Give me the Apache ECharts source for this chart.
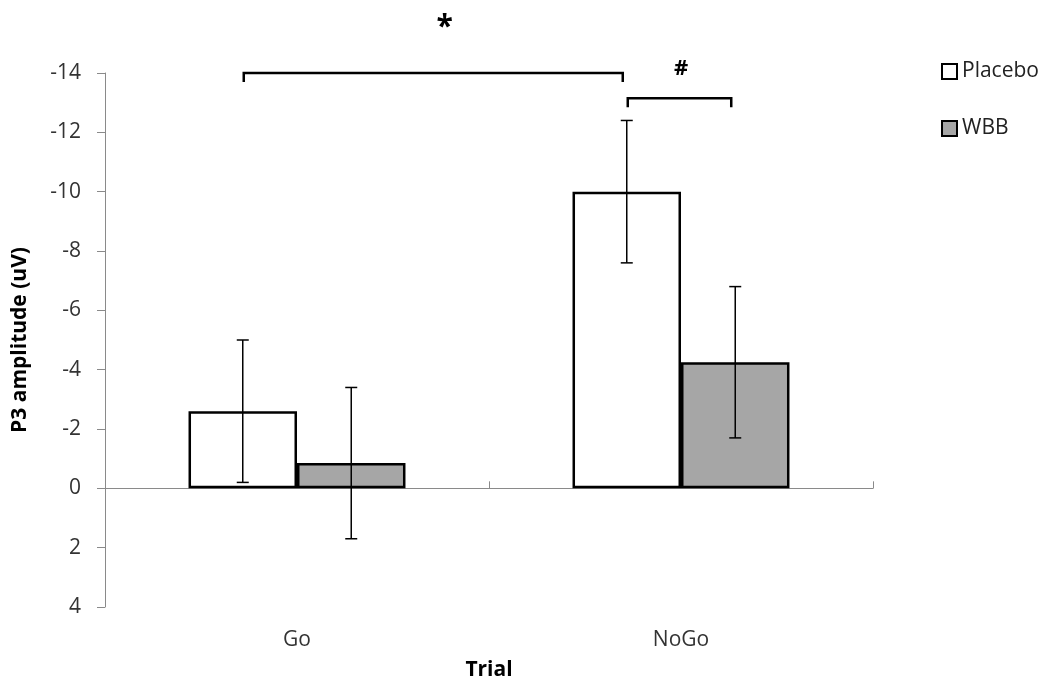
<!DOCTYPE html>
<html>
<head>
<meta charset="utf-8">
<script src="https://cdn.jsdelivr.net/npm/echarts@6/dist/echarts.min.js"></script>
<style>
  html, body { margin: 0; padding: 0; background: #fff; }
  #chart { width: 1051px; height: 686px; }
</style>
</head>
<body>
<div id="chart"></div>
<script>
// Trial conditions and group means (uV; negative = larger P3)
const trials = ['Go', 'NoGo'];
const groups = ['Placebo', 'WBB'];
const placeboMean = [-2.6, -10.0];
const wbbMean = [-0.85, -4.25];
const placeboErr = [2.4, 2.4];
const wbbErr = [2.55, 2.55];

// Axis settings
const yMin = -14, yMax = 4, yStep = 2;

// Significance brackets: [fromTrial, fromGroup, toTrial, toGroup, level, labelLevel, mark]
const brackets = [
  [0, 0, 1, 0, -14.0, -15.75, '*'],
  [1, 0, 1, 1, -13.15, -14.15, '#']
];

const FONT = '"Open Sans", sans-serif';
const CATEGORY_GAP = 0.435;            // fraction of band left empty
const BAR_FRACTION = (1 - CATEGORY_GAP) / 2;

const means = [placeboMean, wbbMean];
const errs = [placeboErr, wbbErr];

// Horizontal pixel centre of a group's bar within a category
function barCenter(api, trialIdx, groupIdx, value) {
  const p = api.coord([trialIdx, value]);
  const band = api.size([1, 0])[0];
  const w = band * BAR_FRACTION;
  return [p[0] + (groupIdx === 0 ? -w / 2 : w / 2), p[1]];
}

const errorData = [];
groups.forEach((g, gi) => {
  trials.forEach((t, ti) => {
    errorData.push([ti, gi, means[gi][ti] - errs[gi][ti], means[gi][ti] + errs[gi][ti]]);
  });
});

const chart = echarts.init(document.getElementById('chart'));
chart.setOption({
  animation: false,
  textStyle: { fontFamily: FONT },
  grid: { left: 105, right: 178, top: 73, bottom: 79, containLabel: false, outerBoundsMode: 'none' },
  legend: {
    data: groups,
    orient: 'vertical',
    left: 936,
    top: 56,
    itemGap: 36,
    itemWidth: 15,
    itemHeight: 15,
    icon: 'rect',
    textStyle: { fontFamily: FONT, fontSize: 21, color: '#222' },
    itemStyle: { borderColor: '#000', borderWidth: 2 }
  },
  xAxis: {
    type: 'category',
    data: trials,
    name: 'Trial',
    nameLocation: 'middle',
    nameGap: 53,
    nameTextStyle: { fontFamily: FONT, fontSize: 21, fontWeight: 'bold', color: '#000' },
    axisLine: { onZero: true, lineStyle: { color: '#8a8a8a', width: 1 } },
    axisTick: { show: true, inside: true, length: 7, lineStyle: { color: '#8a8a8a' } },
    axisLabel: { margin: 23, fontFamily: FONT, fontSize: 21, color: '#333' },
    splitLine: { show: false }
  },
  yAxis: {
    type: 'value',
    inverse: true,
    min: yMin,
    max: yMax,
    interval: yStep,
    name: 'P3 amplitude (uV)',
    nameLocation: 'middle',
    nameGap: 74,
    nameTextStyle: { fontFamily: FONT, fontSize: 21, fontWeight: 'bold', color: '#000' },
    axisLine: { show: true, lineStyle: { color: '#8a8a8a', width: 1 } },
    axisTick: { show: true, length: 8, lineStyle: { color: '#8a8a8a' } },
    axisLabel: { margin: 24, fontFamily: FONT, fontSize: 21, color: '#333' },
    splitLine: { show: false }
  },
  series: [
    {
      name: 'Placebo',
      type: 'bar',
      data: placeboMean,
      barGap: '0%',
      barCategoryGap: (CATEGORY_GAP * 100) + '%',
      itemStyle: { color: '#ffffff', borderColor: '#000', borderWidth: 2.5 }
    },
    {
      name: 'WBB',
      type: 'bar',
      data: wbbMean,
      barGap: '0%',
      barCategoryGap: (CATEGORY_GAP * 100) + '%',
      itemStyle: { color: '#a6a6a6', borderColor: '#000', borderWidth: 2.5 }
    },
    {
      name: 'error',
      type: 'custom',
      z: 5,
      data: errorData,
      encode: { x: 0, y: [2, 3] },
      renderItem: function (params, api) {
        const ti = api.value(0), gi = api.value(1);
        const lo = barCenter(api, ti, gi, api.value(2));
        const hi = barCenter(api, ti, gi, api.value(3));
        const cap = 6;
        const style = { stroke: '#000', lineWidth: 1.5 };
        return {
          type: 'group',
          children: [
            { type: 'line', shape: { x1: lo[0], y1: lo[1], x2: hi[0], y2: hi[1] }, style: style },
            { type: 'line', shape: { x1: lo[0] - cap, y1: lo[1], x2: lo[0] + cap, y2: lo[1] }, style: style },
            { type: 'line', shape: { x1: hi[0] - cap, y1: hi[1], x2: hi[0] + cap, y2: hi[1] }, style: style }
          ]
        };
      }
    },
    {
      name: 'brackets',
      type: 'custom',
      z: 6,
      clip: false,
      data: brackets,
      encode: { x: 0, y: 4 },
      renderItem: function (params, api) {
        const b = brackets[params.dataIndex];
        const a = barCenter(api, b[0], b[1], b[4]);
        const c = barCenter(api, b[2], b[3], b[4]);
        const t = barCenter(api, b[0], b[1], b[5]);
        const leg = 9;
        const star = b[6] === '*';
        return {
          type: 'group',
          children: [
            {
              type: 'polyline',
              shape: { points: [[a[0] + 1, a[1] + leg], [a[0] + 1, a[1]], [c[0] - 4, c[1]], [c[0] - 4, c[1] + leg]] },
              style: { stroke: '#000', lineWidth: 2.5, fill: null }
            },
            {
              type: 'text',
              style: {
                x: (a[0] + c[0]) / 2 + (star ? 10 : 0),
                y: t[1] + (star ? 6 : 0),
                text: b[6],
                fill: '#000',
                font: 'bold ' + (star ? 30 : 22) + 'px ' + FONT,
                align: 'center',
                verticalAlign: 'middle'
              }
            }
          ]
        };
      }
    }
  ]
});
</script>
</body>
</html>
